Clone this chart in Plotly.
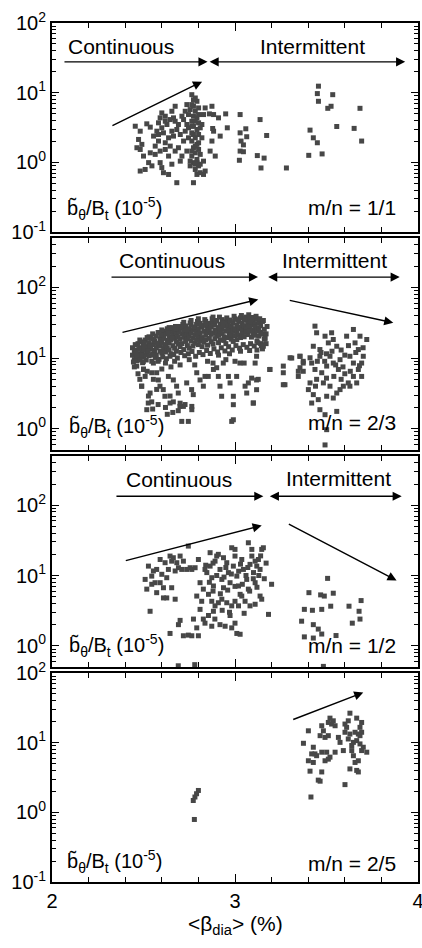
import math
import plotly.graph_objects as go
from plotly.subplots import make_subplots

# ---------------- Panel 1 : m/n = 1/1 ----------------
p1_beta = [
    2.455, 2.482, 2.518, 2.537, 2.473, 2.491, 2.482, 2.464, 2.500, 2.537,
    2.564, 2.528, 2.546, 2.482, 2.509, 2.591, 2.600, 2.609, 2.637, 2.655,
    2.682, 2.773, 2.582, 2.600, 2.619, 2.655, 2.673, 2.664, 2.573, 2.555,
    2.582, 2.619, 2.637, 2.600, 2.628, 2.655, 2.691, 2.701, 2.719, 2.728,
    2.719, 2.691, 2.673, 2.637, 2.701, 2.710, 2.737, 2.755, 2.792, 2.837,
    2.828, 2.810, 2.792, 2.864, 2.874, 2.883, 2.883, 2.874, 2.910, 2.919,
    2.892, 2.828,
    2.764, 2.783, 2.792, 2.764, 2.755, 2.783, 2.801, 2.773, 2.792, 2.764,
    2.801, 2.773, 2.792, 2.764, 2.801, 2.783, 2.764, 2.792, 2.773, 2.801,
    2.783, 2.764, 2.792, 2.773, 2.801, 2.783, 2.810, 2.746, 2.746, 2.746,
    2.819, 2.819, 2.828, 2.737, 2.837,
    2.591, 2.619, 2.609, 2.582, 2.646, 2.673, 2.682, 2.664, 2.646, 2.619,
    2.591, 2.564, 2.710, 2.737, 2.728,
    2.773, 2.783, 2.764, 2.810, 2.773, 2.801, 2.783, 2.764, 2.810, 2.755,
    2.783, 2.801, 2.773,
    2.860, 2.949, 3.028, 3.137, 2.958, 2.878, 3.059, 3.028, 3.064, 3.173,
    3.033, 3.046, 3.028, 3.046, 3.024, 3.122, 3.159, 3.142, 3.281,
    3.456, 3.450, 3.456, 3.534, 3.507, 3.525, 3.683, 3.556, 3.651, 3.692,
    3.410, 3.428, 3.450, 3.403, 3.476,
]
p1_b = [
    3.30, 2.80, 3.57, 3.20, 2.13, 1.81, 1.53, 1.62, 1.23, 1.37,
    1.30, 0.99, 0.89, 0.75, 0.79, 0.99, 0.84, 0.71, 0.67, 0.94,
    0.51, 0.51, 3.69, 5.12, 4.59, 5.41, 6.38, 4.35, 2.80, 2.38,
    2.02, 1.91, 2.25, 3.13, 3.49, 2.80, 3.49, 2.51, 4.11, 5.41,
    2.02, 1.62, 1.45, 1.23, 1.04, 1.23, 1.45, 0.89, 0.99, 0.75,
    0.67, 0.94, 0.67, 1.45, 2.02, 2.80, 4.85, 6.38, 4.35, 2.38,
    1.23, 1.04,
    9.36, 8.39, 7.52, 6.74, 5.72, 5.41, 6.04, 4.59, 4.35, 3.89,
    3.69, 3.30, 2.96, 2.65, 2.51, 2.25, 2.02, 1.81, 1.62, 1.53,
    1.37, 1.23, 1.10, 0.99, 0.89, 0.79, 0.71, 4.85, 3.13, 2.25,
    3.49, 2.25, 4.85, 6.74, 6.04,
    4.35, 3.89, 2.65, 2.51, 4.11, 3.89, 2.96, 2.38, 1.71, 1.53,
    1.45, 1.71, 4.59, 3.49, 2.80,
    6.38, 3.89, 3.30, 3.13, 2.51, 1.91, 1.71, 1.45, 1.30, 1.04,
    0.94, 4.85, 7.90,
    4.96, 4.96, 4.85, 4.11, 3.13, 3.06, 3.03, 2.65, 2.33, 2.43,
    2.02, 1.78, 1.45, 1.42, 1.07, 1.25, 1.15, 0.83, 0.83,
    12.4, 9.7, 7.52, 9.36, 5.96, 6.38, 5.96, 3.27, 3.07, 2.02,
    2.90, 2.25, 1.91, 1.26, 1.32,
]

# ---------------- Panel 2 : m/n = 2/3 ----------------
p2_band_beta = [
    2.44, 2.44, 2.45, 2.45, 2.46, 2.46, 2.47, 2.47, 2.48, 2.48, 2.49, 2.49,
    2.50, 2.50, 2.50, 2.51, 2.51, 2.52, 2.52, 2.53, 2.53, 2.53, 2.54, 2.54,
    2.55, 2.55, 2.55, 2.56, 2.56, 2.57, 2.57, 2.57, 2.58, 2.58,
    2.59, 2.59, 2.59, 2.60, 2.60, 2.60, 2.61, 2.61, 2.61,
    2.62, 2.62, 2.62, 2.63, 2.63, 2.63, 2.64, 2.64, 2.64,
    2.65, 2.65, 2.65, 2.66, 2.66, 2.66, 2.67, 2.67, 2.67,
    2.68, 2.68, 2.68, 2.69, 2.69, 2.69, 2.70, 2.70, 2.70,
    2.71, 2.71, 2.71, 2.72, 2.72, 2.72, 2.73, 2.73, 2.73,
    2.74, 2.74, 2.74, 2.75, 2.75, 2.75, 2.76, 2.76, 2.76,
    2.77, 2.77, 2.77, 2.78, 2.78, 2.78, 2.79, 2.79, 2.79,
    2.80, 2.80, 2.80, 2.81, 2.81, 2.81, 2.82, 2.82, 2.82,
    2.83, 2.83, 2.83, 2.84, 2.84, 2.84, 2.85, 2.85, 2.85,
    2.86, 2.86, 2.86, 2.87, 2.87, 2.87, 2.88, 2.88, 2.88,
    2.89, 2.89, 2.89, 2.90, 2.90, 2.90, 2.91, 2.91, 2.91,
    2.92, 2.92, 2.92, 2.93, 2.93, 2.93, 2.94, 2.94, 2.94,
    2.95, 2.95, 2.95, 2.96, 2.96, 2.96, 2.97, 2.97, 2.97,
    2.98, 2.98, 2.98, 2.99, 2.99, 2.99, 3.00, 3.00, 3.00,
    3.01, 3.01, 3.01, 3.02, 3.02, 3.02, 3.03, 3.03, 3.03,
    3.04, 3.04, 3.04, 3.05, 3.05, 3.05, 3.06, 3.06, 3.06,
    3.07, 3.07, 3.07, 3.08, 3.08, 3.08, 3.09, 3.09, 3.09,
    3.10, 3.10, 3.10, 3.11, 3.11, 3.11, 3.12, 3.12, 3.12,
    3.13, 3.13, 3.13, 3.14, 3.14, 3.14, 3.15, 3.15, 3.15,
    3.16, 3.16, 3.17, 3.17,
    2.445, 2.455, 2.465, 2.475, 2.485, 2.495, 2.505, 2.515, 2.525, 2.535,
    2.545, 2.555, 2.565, 2.575, 2.585, 2.595, 2.605, 2.615, 2.625, 2.635,
    2.645, 2.655, 2.665, 2.675, 2.685, 2.695, 2.705, 2.715, 2.725, 2.735,
    2.745, 2.755, 2.765, 2.775, 2.785, 2.795, 2.805, 2.815, 2.825, 2.835,
    2.845, 2.855, 2.865, 2.875, 2.885, 2.895, 2.905, 2.915, 2.925, 2.935,
    2.945, 2.955, 2.965, 2.975, 2.985, 2.995, 3.005, 3.015, 3.025, 3.035,
    3.045, 3.055, 3.065, 3.075, 3.085, 3.095, 3.105, 3.115, 3.125, 3.135,
    3.145, 3.155, 3.165, 3.175, 3.150, 3.120, 3.080, 3.030, 2.970, 2.910,
    2.600, 2.640, 2.680, 2.720, 2.760, 2.800, 2.840, 2.880, 2.520, 2.480,
]
p2_band_b = [
    11, 14, 9.5, 12.5, 13, 10.5, 11.5, 16, 14, 9.8, 12, 17,
    10.5, 15, 13, 18, 11.2, 14.5, 12, 16.5, 10.8, 20, 13.5, 19,
    11.5, 15.5, 22, 17.5, 12.8, 14, 20.5, 11, 16, 23,
    12.5, 18.5, 14.8, 21, 11.8, 16.8, 19, 13.5, 24,
    15.5, 22, 12.2, 17.8, 26, 14, 20, 13, 16.5,
    23.5, 18, 11.5, 15, 21, 27, 19.5, 13.8, 24.5,
    17, 22.5, 12.5, 25.5, 15.8, 20, 18.5, 28, 14.5,
    22, 16, 26.5, 13.2, 19.8, 24, 17.2, 28.5, 21.5,
    15, 23, 18.8, 26, 20.5, 13.8, 17.5, 29.5, 22.8,
    14.8, 24.8, 19.2, 21, 27, 16.2, 18, 30, 23.5,
    15.5, 25.5, 20.2, 22.5, 31, 17.5, 19.5, 27.5, 14.5,
    24, 16.8, 29, 21.2, 33, 18.2, 26.5, 15.2, 23,
    19, 30.5, 24.8, 17, 27.8, 21.8, 32, 22.5, 15.8,
    25, 18.8, 29.5, 20.5, 34, 23.8, 27, 16.5, 21,
    30, 24.2, 18, 22.2, 35, 26.2, 17.8, 28.5, 20,
    32.5, 24, 16, 26.8, 19.5, 30, 22, 34.5, 25.2,
    18.5, 28, 21.5, 31.5, 24.5, 17.2, 26, 20.8, 36,
    23, 29, 18.2, 33, 25.8, 21.2, 19.5, 27.5, 37,
    24.8, 31, 22, 28.5, 20, 35, 26.2, 38, 23.2,
    21.5, 30.2, 33.5, 27.2, 24, 36.5, 19.8, 29.5, 32,
    25, 34, 22.5, 30.5, 21, 27.8, 35.5, 24.5, 17.5,
    26.5, 31.5, 20.5, 23, 28.8, 16, 33, 21.8, 15.5,
    25.5, 18.5, 22, 16,
    8.8, 15.5, 9.2, 13.5, 11, 8.6, 16.5, 9.4, 12.5, 14.8,
    9.0, 18.5, 10.2, 16.2, 9.6, 21.5, 10.4, 15.2, 9.8, 23,
    10.6, 19, 11.2, 28, 10, 23.5, 12, 30, 10.8, 25,
    11.5, 31.5, 12.4, 27.5, 10.6, 33, 12, 29, 11.2, 35,
    12.8, 31, 11.6, 36, 13.5, 33.5, 12.2, 38, 14, 31,
    12.6, 37, 14.5, 33, 13, 39, 15, 35, 13.8, 40,
    15.5, 36, 14.2, 41, 16, 37.5, 14.8, 39, 16.5, 36,
    15, 34, 19, 28, 13.5, 13, 12.8, 12.5, 11.5, 11,
    25, 27, 26, 32, 34, 36, 30, 38, 19.5, 18,
]
p2_low_beta = [
    2.463, 2.499, 2.490, 2.526, 2.536, 2.554, 2.572, 2.581, 2.590, 2.608,
    2.617, 2.636, 2.645, 2.663, 2.681, 2.690, 2.699, 2.718, 2.709, 2.745,
    2.736, 2.763, 2.772, 2.791, 2.809, 2.827, 2.836, 2.854, 2.882, 2.900,
    2.909, 2.918, 2.927, 2.936, 2.964, 2.973, 2.991, 2.991, 2.982, 3.009,
    3.027, 3.055, 3.064, 3.073, 3.091, 3.100, 3.118, 3.118, 3.155,
    2.45, 2.47, 2.48, 2.50, 2.52, 2.46, 2.48, 2.55, 2.58, 2.60,
    2.62, 2.65, 2.67, 2.70, 2.75, 2.78, 2.85, 2.88, 2.95, 3.00,
    3.05, 2.55, 2.58, 2.62, 2.63, 2.66, 2.69, 2.991,
    2.463, 2.500, 2.509, 2.490, 2.545, 2.554, 2.527, 2.545, 2.518, 2.572,
    2.645, 2.663, 2.700, 2.727, 2.764, 2.764,
]
p2_low_b = [
    10.6, 8.9, 4.0, 2.31, 3.2, 8.5, 6.2, 4.9, 4.0, 3.58,
    2.88, 5.5, 2.31, 4.9, 4.0, 3.2, 2.07, 2.07, 1.27, 1.27,
    4.45, 3.58, 3.04, 6.2, 4.9, 4.0, 5.5, 5.5, 6.9, 7.3,
    5.5, 4.0, 2.88, 8.5, 5.5, 4.45, 2.88, 2.19, 1.27, 5.5,
    8.5, 4.0, 3.2, 4.45, 5.2, 2.31, 4.9, 10.6, 14.7,
    7.5, 6.0, 5.0, 7.0, 6.5, 12.0, 9.5, 11.0, 9.0, 7.0,
    8.5, 7.5, 9.0, 8.0, 9.5, 8.0, 9.0, 8.5, 9.5, 9.0,
    8.5, 1.9, 2.2, 2.0, 1.6, 1.7, 1.8, 1.34,
    7.7, 6.9, 5.5, 4.0, 6.2, 5.0, 2.9, 2.4, 1.86, 3.6,
    2.9, 2.4, 2.3, 2.2, 2.07, 1.86,
]
p2_right_beta = [
    3.191, 3.264, 3.264, 3.301, 3.355, 3.373, 3.410, 3.437, 3.446, 3.428,
    3.464, 3.492, 3.510, 3.528, 3.537, 3.556, 3.610, 3.647, 3.683, 3.720,
    3.656, 3.674, 3.701, 3.628, 3.574, 3.519, 3.464, 3.419, 3.437, 3.474,
    3.501, 3.537, 3.565, 3.647, 3.692, 3.674, 3.692, 3.647, 3.619, 3.592,
    3.556, 3.519, 3.483, 3.446, 3.410, 3.401, 3.428, 3.455, 3.501, 3.537,
    3.574, 3.628, 3.665, 3.419, 3.464, 3.492, 3.501, 3.492, 3.556, 3.355,
    3.346,
    3.47, 3.50, 3.53, 3.58, 3.60, 3.62, 3.66, 3.45, 3.49, 3.55,
    3.59, 3.63, 3.68, 3.44, 3.50, 3.54, 3.58, 3.60, 3.70,
    3.11, 3.127, 3.118, 3.10, 3.19, 3.264, 3.273, 3.31, 3.355, 3.373,
    3.373, 3.346,
]
p2_right_b = [
    6.9, 6.2, 4.2, 10.1, 10.6, 8.5, 10.1, 28.3, 22.8, 14.7,
    13.2, 20.4, 16.4, 22.8, 18.3, 14.7, 20.4, 25.4, 20.4, 18.3,
    16.4, 13.2, 10.6, 10.6, 9.5, 10.6, 10.6, 8.5, 6.9, 6.2,
    7.7, 8.5, 6.9, 8.5, 8.5, 6.9, 5.5, 5.5, 4.45, 4.0,
    3.2, 4.0, 4.45, 5.0, 4.45, 3.58, 3.04, 2.58, 2.88, 2.72,
    3.58, 4.0, 4.45, 2.31, 1.86, 1.58, 0.97, 0.59, 1.76, 7.3,
    5.5,
    12, 11.5, 12.5, 13, 11, 15, 12, 9, 9, 8,
    7.5, 6.5, 7.8, 4, 5.2, 5.5, 5, 6, 14,
    8.5, 5.0, 3.57, 2.31, 6.9, 7.7, 4.2, 10.0, 10.6, 9.0,
    6.5, 6.5,
]

# ---------------- Panel 3 : m/n = 1/2 ----------------
p3_beta = [
    2.527, 2.509, 2.518, 2.545, 2.554, 2.572, 2.591, 2.600, 2.563, 2.591,
    2.609, 2.545, 2.627, 2.645, 2.654, 2.663, 2.682, 2.691, 2.673, 2.636,
    2.618, 2.709, 2.718, 2.700, 2.736, 2.755, 2.745, 2.764, 2.782, 2.800,
    2.627, 2.673, 2.609, 2.536, 2.572, 2.654,
    2.809, 2.827, 2.846, 2.864, 2.873, 2.882, 2.891, 2.900, 2.918, 2.928,
    2.937, 2.955, 2.964, 2.973, 2.991, 3.000, 3.010, 3.019, 3.028, 3.037,
    3.046, 3.064, 3.073, 3.082, 3.092, 3.101, 3.110, 3.119, 3.128, 3.137,
    3.146, 3.155, 3.092, 3.073, 3.000, 2.982, 2.937, 2.909, 2.864, 2.836,
    2.855, 2.873, 2.891, 2.909, 2.928, 2.955, 2.982, 3.000, 3.019, 3.037,
    3.055, 3.082, 3.110, 3.137, 3.146, 3.183, 2.855, 2.882, 2.836, 2.873,
    2.918, 2.946, 2.973, 3.000, 2.982, 3.010, 3.028, 2.791, 2.818, 2.809,
    2.773, 2.791, 2.827, 2.800, 2.764, 2.745, 2.718, 2.700, 2.691, 2.645,
    2.69, 2.78,
    2.86, 2.90, 2.94, 2.98, 3.02, 3.06, 3.10, 2.88, 2.92, 2.96,
    3.00, 3.04, 3.08, 3.12, 2.84, 2.88, 2.95, 3.03, 3.07, 3.11,
    3.14, 3.17, 3.16, 3.13, 3.20, 2.93, 2.97, 3.05, 2.89,
    3.506, 3.404, 3.468, 3.488, 3.537, 3.379, 3.423, 3.474, 3.523, 3.623,
    3.689, 3.678, 3.364, 3.428, 3.641, 3.683, 3.455, 3.474, 3.379, 3.552,
    3.428, 3.483,
]
p3_b = [
    13.6, 8.8, 6.4, 9.8, 11.6, 12.2, 16.9, 10.4, 7.9, 7.9,
    6.7, 7.5, 9.3, 18.9, 16.0, 17.9, 15.2, 12.9, 11.6, 12.2,
    15.2, 12.2, 16.0, 18.9, 12.2, 12.9, 26.2, 12.2, 12.9, 16.9,
    4.8, 4.6, 4.8, 3.1, 5.7, 6.7,
    7.9, 6.4, 11.0, 13.6, 9.3, 7.1, 16.0, 18.9, 12.2, 8.8,
    6.7, 15.2, 11.0, 7.9, 13.6, 18.9, 9.8, 7.1, 5.4, 16.9,
    12.2, 8.8, 6.4, 14.4, 18.9, 11.0, 7.9, 13.6, 16.9, 12.2,
    23.5, 24.8, 23.5, 29.2, 23.5, 24.8, 17.9, 20.0, 21.1, 12.2,
    5.4, 4.3, 3.7, 4.1, 4.6, 4.1, 3.7, 4.3, 3.7, 5.1,
    4.3, 3.7, 3.9, 5.1, 4.6, 2.8, 2.7, 3.1, 2.1, 1.9,
    2.0, 1.9, 2.7, 2.1, 1.8, 1.5, 1.46, 5.1, 4.3, 3.3,
    2.4, 1.8, 2.4, 1.39, 1.39, 1.42, 1.39, 2.3, 2.0, 1.5,
    0.52, 0.54,
    8.0, 10.0, 9.5, 10.5, 11.5, 10.0, 9.0, 6.0, 5.5, 6.2,
    7.0, 7.5, 6.0, 6.8, 14.0, 15.0, 13.0, 14.5, 13.0, 16.0,
    19.0, 15.0, 9.0, 10.0, 7.5, 3.2, 3.0, 2.9, 2.4,
    9.1, 5.7, 5.3, 5.1, 5.6, 3.3, 3.2, 3.3, 3.66, 3.66,
    4.4, 3.1, 2.24, 2.0, 2.1, 2.4, 1.73, 1.47, 1.34, 1.40,
    1.29, 0.51,
]

# ---------------- Panel 4 : m/n = 2/5 ----------------
p4_beta = [
    3.628, 3.665, 3.692, 3.683, 3.519, 3.537, 3.528, 3.547, 3.510, 3.474,
    3.483, 3.401, 3.465, 3.492, 3.510, 3.565, 3.601, 3.610, 3.601, 3.628,
    3.656, 3.674, 3.683, 3.692, 3.619, 3.647, 3.665, 3.683, 3.701, 3.720,
    3.638, 3.592, 3.692, 3.374, 3.428, 3.437, 3.419, 3.446, 3.474, 3.501,
    3.519, 3.547, 3.401, 3.428, 3.492, 3.510, 3.647, 3.656, 3.674, 3.410,
    3.474, 3.628, 3.665, 3.674, 3.455, 3.465, 3.601, 3.415, 3.638, 3.574,
    3.619,
    2.778, 2.772, 2.781, 2.800, 2.790,
]
p4_b = [
    26.5, 22.5, 19.5, 16.6, 22.5, 20.6, 18.5, 17.5, 19.5, 17.5,
    14.8, 14.8, 12.6, 11.9, 12.6, 11.9, 18.5, 16.6, 14.1, 13.3,
    14.1, 13.3, 12.6, 14.1, 11.3, 10.1, 10.7, 9.6, 8.6, 7.3,
    9.1, 7.7, 7.7, 9.8, 8.6, 6.9, 6.9, 6.5, 7.3, 7.3,
    6.2, 7.3, 5.5, 5.2, 5.5, 5.8, 6.5, 5.2, 5.5, 3.9,
    3.8, 4.2, 4.0, 3.8, 2.9, 2.8, 2.5, 1.66, 7.7, 10.1,
    20.6,
    0.79, 1.48, 1.66, 2.06, 1.85,
]

panel_labels = ["m/n = 1/1", "m/n = 2/3", "m/n = 1/2", "m/n = 2/5"]
y_tickvals = [[0.1, 1, 10, 100], [1, 10, 100], [1, 10, 100], [0.1, 1, 10, 100]]
y_ticktext = {0.1: "10<sup>-1</sup>", 1: "10<sup>0</sup>", 10: "10<sup>1</sup>", 100: "10<sup>2</sup>"}
y_ranges = [[0.1, 100], [0.5, 500], [0.5, 500], [0.1, 100]]
x_tickvals = [2, 3, 4]
x_ticktext = ["2", "3", "4"]

p2_beta = p2_band_beta + p2_low_beta + p2_right_beta
p2_b = p2_band_b + p2_low_b + p2_right_b
assert len(p1_beta) == len(p1_b)
assert len(p2_band_beta) == len(p2_band_b)
assert len(p2_low_beta) == len(p2_low_b)
assert len(p2_right_beta) == len(p2_right_b)
assert len(p3_beta) == len(p3_b)
assert len(p4_beta) == len(p4_b)

FONT = "Liberation Sans, Arial, sans-serif"
MARK = "#474747"
TXT = 21

fig = make_subplots(rows=4, cols=1, shared_xaxes=True, vertical_spacing=0.005)
data = [(p1_beta, p1_b), (p2_beta, p2_b), (p3_beta, p3_b), (p4_beta, p4_b)]
for i, (xs, ys) in enumerate(data):
    fig.add_trace(go.Scatter(x=xs, y=ys, mode="markers",
                             marker=dict(symbol="square", size=5, color=MARK, line=dict(width=0)),
                             hoverinfo="skip", showlegend=False, cliponaxis=True),
                  row=i + 1, col=1)

domains = [[0.7567, 1.0], [0.5029, 0.7497], [0.2503, 0.4959], [0.0, 0.2433]]
minor_y = [d * 10 ** k for k in range(-1, 3) for d in range(2, 10)]
minor_x = [2.2, 2.4, 2.6, 2.8, 3.2, 3.4, 3.6, 3.8]

for i in range(4):
    n = "" if i == 0 else str(i + 1)
    fig.layout["yaxis" + n].update(
        type="log", domain=domains[i], automargin=False,
        range=[math.log10(y_ranges[i][0]), math.log10(y_ranges[i][1])],
        tickmode="array", tickvals=y_tickvals[i],
        ticktext=[y_ticktext[v] for v in y_tickvals[i]],
        ticks="inside", ticklen=7, tickwidth=1.3, tickcolor="black",
        minor=dict(tickmode="array", tickvals=minor_y, ticks="inside", ticklen=4,
                   tickwidth=1, tickcolor="black", showgrid=False),
        showline=True, linewidth=2, linecolor="black", mirror="allticks",
        showgrid=False, zeroline=False,
        tickfont=dict(family=FONT, size=20, color="black"),
    )
    fig.layout["xaxis" + n].update(
        range=[2, 4], tickmode="array", tickvals=x_tickvals, ticktext=x_ticktext,
        automargin=False, ticklabeloverflow="allow",
        ticks="inside", ticklen=8, tickwidth=1.3, tickcolor="black",
        minor=dict(tickmode="array", tickvals=minor_x, ticks="inside", ticklen=5,
                   tickwidth=1.2, tickcolor="black", showgrid=False),
        showline=True, linewidth=2, linecolor="black", mirror="allticks",
        showgrid=False, zeroline=False,
        tickfont=dict(family=FONT, size=20, color="black"),
    )

fig.layout["xaxis4"].update(showticklabels=True)


def refs(n):
    return ("x" if n == 1 else f"x{n}"), ("y" if n == 1 else f"y{n}")


def arrow(n, x0, y0, x1, y1, both=False):
    xr, yr = refs(n)
    fig.add_annotation(x=x1, y=math.log10(y1), ax=x0, ay=math.log10(y0),
                       xref=xr, yref=yr, axref=xr, ayref=yr, text="",
                       showarrow=True, arrowhead=2, arrowsize=1.3, arrowwidth=1.4,
                       arrowcolor="black",
                       arrowside="end+start" if both else "end",
                       startarrowhead=2, startarrowsize=1.3, standoff=0, startstandoff=0)


def label(n, x, y, text, xanchor="center", size=TXT):
    xr, yr = refs(n)
    fig.add_annotation(x=x, y=math.log10(y), xref=xr, yref=yr, text=text,
                       showarrow=False, xanchor=xanchor, yanchor="middle",
                       font=dict(family=FONT, size=size, color="black"))


ylab = "b\u0303<sub>θ</sub>/B<sub>t</sub> (10<sup>-5</sup>)"

# Panel 1
label(1, 2.377, 45.4, "Continuous")
label(1, 3.423, 45.4, "Intermittent")
arrow(1, 2.06, 27.7, 2.85, 27.7)
arrow(1, 2.853, 27.7, 3.93, 27.7, both=True)
arrow(1, 2.322, 3.27, 2.82, 14.4)
label(1, 3.891, 0.228, panel_labels[0], xanchor="right")
label(1, 2.071, 0.214, ylab, xanchor="left", size=20)

# Panel 2
label(2, 2.658, 241.5, "Continuous")
label(2, 3.541, 241.5, "Intermittent")
arrow(2, 2.317, 140, 3.126, 140)
arrow(2, 3.173, 140, 3.90, 140, both=True)
arrow(2, 2.377, 22.8, 3.127, 67.6)
arrow(2, 3.291, 66.3, 3.865, 31.6)
label(2, 3.891, 1.22, panel_labels[1], xanchor="right")
label(2, 2.082, 1.07, ylab, xanchor="left", size=20)

# Panel 3
label(3, 2.692, 234, "Continuous")
label(3, 3.563, 241.5, "Intermittent")
arrow(3, 2.344, 134, 3.155, 134)
arrow(3, 3.182, 134, 3.911, 134, both=True)
arrow(3, 2.395, 16.1, 3.146, 51.4)
arrow(3, 3.286, 55, 3.883, 8.5)
label(3, 3.891, 1.0, panel_labels[2], xanchor="right")
label(3, 2.082, 1.0, ylab, xanchor="left", size=20)

# Panel 4
arrow(4, 3.310, 21.1, 3.701, 52.4)
label(4, 3.891, 0.186, panel_labels[3], xanchor="right")
label(4, 2.071, 0.195, ylab, xanchor="left", size=20)

# x-axis title
fig.add_annotation(x=0.5, y=-0.05, xref="paper", yref="paper",
                   text="&lt;β<sub>dia</sub>&gt; (%)", showarrow=False,
                   xanchor="center", yanchor="middle",
                   font=dict(family=FONT, size=TXT, color="black"))

fig.update_layout(
    width=422, height=948,
    margin=dict(l=52, r=4, t=23, b=66),
    paper_bgcolor="white", plot_bgcolor="white",
    font=dict(family=FONT, size=20, color="black"),
    showlegend=False,
)

fig.write_html("out.html", config={"displayModeBar": False},
               post_script="document.body.style.margin='0';document.body.style.overflow='hidden';")
